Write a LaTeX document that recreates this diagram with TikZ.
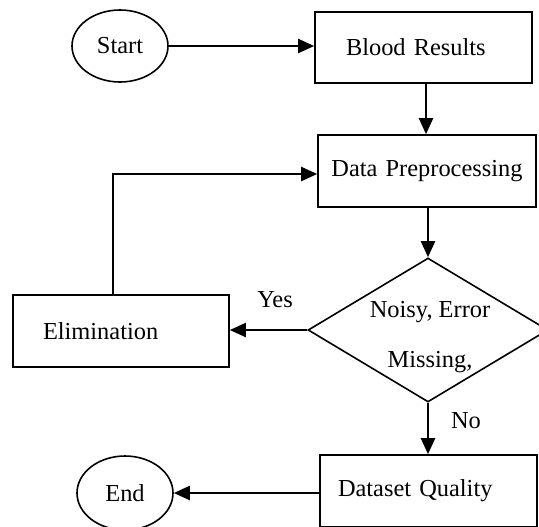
\documentclass[tikz,border=0pt]{standalone}
\usepackage{fontspec}
\setmainfont{Liberation Serif}
\usetikzlibrary{shapes.geometric,arrows.meta}
\tikzset{
  box/.style={draw,line width=0.8pt,rectangle,minimum height=36pt,font=\fontsize{12.2}{14}\selectfont},
  oval/.style={draw,line width=0.8pt,ellipse,inner sep=0pt,minimum width=48pt,minimum height=36pt,font=\fontsize{12.2}{14}\selectfont},
  decision/.style={draw,line width=0.8pt,diamond,inner sep=0pt,minimum width=120pt,minimum height=72pt},
  lbl/.style={inner sep=0pt,font=\fontsize{12.2}{14}\selectfont},
  flow/.style={line width=1.1pt,-{Triangle[length=8pt,width=7pt]}}
}
\begin{document}
\begin{tikzpicture}[x=0.5pt,y=-0.5pt]
\useasboundingbox (0,0) rectangle (539,526);
\node[oval] (start) at (120,46) {Start};
\node[box,inner xsep=15.5pt,text width=77.5pt,align=left,minimum height=35.5pt] (blood) at (423.5,47.5) {Blood Results};
\node[box,inner xsep=0pt,text width=109pt,align=center] (data) at (427,171) {Data Preprocessing};
\node[decision] (dia) at (428,330) {};
\node[lbl,align=center,font=\fontsize{12.2}{25}\selectfont] (dtext) at (430,337) {Noisy, Error\\Missing,};
\node[box,inner xsep=15pt,text width=78pt,align=left] (elim) at (121,331) {Elimination};
\node[box,inner xsep=9pt,text width=90.5pt,align=left] (dset) at (428.5,491) {Dataset Quality};
\node[oval,minimum width=48pt,minimum height=37pt] (endn) at (125,493) {End};
\node[lbl] (yes) at (275,300) {Yes};
\node[lbl] (no) at (466,421) {No};
\draw[flow] (start.east) -- (blood.west |- start.east);
\draw[flow] (blood.south -| 426,0) -- (data.north -| 426,0);
\draw[flow] (data.south -| dia.north) -- (dia.north);
\draw[flow] (dia.west) -- (elim.east |- dia.west);
\draw[flow] ([xshift=-4pt]elim.north) |- ([yshift=-1.5pt]data.west);
\draw[flow] (dia.south) -- (dset.north -| dia.south);
\draw[flow] (dset.west |- endn.east) -- (endn.east);
\end{tikzpicture}
\end{document}
